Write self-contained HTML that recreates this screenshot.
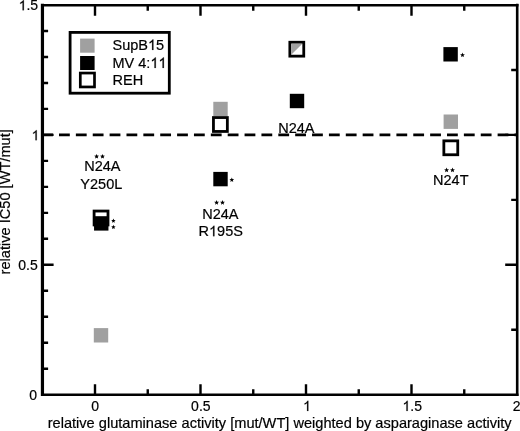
<!DOCTYPE html>
<html><head><meta charset="utf-8"><style>
html,body{margin:0;padding:0;background:#fff;}
body{width:520px;height:431px;overflow:hidden;position:relative;}
svg{position:absolute;left:0;top:0;filter:blur(0.35px);}
text{font-family:"Liberation Sans",sans-serif;font-size:14.5px;fill:#000;font-kerning:none;stroke:#000;stroke-width:0.2px;}
</style></head><body>
<svg width="520" height="431" viewBox="0 0 520 431">
<path d="M42.45 3.8V396.1" stroke="#000" stroke-width="3.2"/>
<path d="M517.2 3.8V396.1" stroke="#000" stroke-width="2.6"/>
<path d="M41.1 5.2H518.5M41.1 394.7H518.5" stroke="#000" stroke-width="2.6"/>
<path d="M147.75 394.7V389.20M147.75 5.2V10.70M200.50 394.7V384.20M200.50 5.2V15.70M253.25 394.7V389.20M253.25 5.2V10.70M306.00 394.7V384.20M306.00 5.2V15.70M358.75 394.7V389.20M358.75 5.2V10.70M411.50 394.7V384.20M411.50 5.2V15.70M464.25 394.7V389.20M464.25 5.2V10.70M95.00 394.7V384.20M95.00 5.2V15.70M42.6 368.72H48.10M42.6 342.74H48.10M42.6 316.76H48.10M42.6 290.78H48.10M42.6 264.80H53.60M42.6 238.82H48.10M42.6 212.84H48.10M42.6 186.86H48.10M42.6 160.88H48.10M42.6 134.90H53.60M42.6 108.92H48.10M42.6 82.94H48.10M42.6 56.96H48.10M42.6 30.98H48.10M517.2 329.75H511.20M517.2 264.80H505.20M517.2 199.85H511.20M517.2 134.90H505.20M517.2 69.95H511.20" stroke="#000" stroke-width="2.4" fill="none"/>
<path d="M42.13 134.90H517.2" stroke="#000" stroke-width="2.6" stroke-dasharray="10.8 6.07" fill="none"/>
<rect x="93.80" y="328.10" width="14.4" height="14.4" fill="#a0a0a0"/>
<rect x="94.10" y="211.05" width="13.9" height="13.9" fill="none" stroke="#000" stroke-width="2.8"/>
<rect x="94.05" y="216.20" width="14.4" height="14.4" fill="#000"/>
<rect x="213.30" y="101.80" width="14.4" height="14.4" fill="#a0a0a0"/>
<rect x="213.45" y="117.55" width="13.9" height="13.9" fill="#fff" stroke="#000" stroke-width="2.8"/>
<rect x="213.30" y="171.90" width="14.4" height="14.4" fill="#000"/>
<rect x="289.85" y="42.25" width="13.9" height="13.9" fill="#fff" stroke="#000" stroke-width="2.8"/>
<path d="M291.25 43.65H302.35L291.25 54.75Z" fill="#a0a0a0"/>
<rect x="289.80" y="93.80" width="14.4" height="14.4" fill="#000"/>
<rect x="443.40" y="47.10" width="14.4" height="14.4" fill="#000"/>
<rect x="443.60" y="114.50" width="14.4" height="14.4" fill="#a0a0a0"/>
<rect x="443.85" y="140.85" width="13.9" height="13.9" fill="#fff" stroke="#000" stroke-width="2.8"/>
<rect x="70.1" y="32.4" width="99.2" height="60.8" fill="none" stroke="#000" stroke-width="2.8"/>
<rect x="80.1" y="38.6" width="14.5" height="14.1" fill="#a0a0a0"/>
<rect x="80.1" y="56" width="14.5" height="14" fill="#000"/>
<rect x="80.3" y="73.05" width="14.2" height="13.9" fill="#fff" stroke="#000" stroke-width="2.7"/>
<text class="tt" x="38.1" y="10.3" text-anchor="end" style="font-size:14px"><tspan style="fill:none;stroke:none">1</tspan>.5</text>
<text class="tt" x="39.3" y="140.2" text-anchor="end" style="font-size:14px"><tspan style="fill:none;stroke:none">1</tspan></text>
<text class="tt" x="37.8" y="269.6" text-anchor="end" style="font-size:14px">0.5</text>
<text class="tt" x="37.0" y="399.8" text-anchor="end" style="font-size:14px">0</text>
<text class="tt" x="95.1" y="410.9" text-anchor="middle" style="font-size:14px">0</text>
<text class="tt" x="200.85" y="410.9" text-anchor="middle" style="font-size:14px">0.5</text>
<text class="tt" x="307.0" y="410.9" text-anchor="middle" style="font-size:14px"><tspan style="fill:none;stroke:none">1</tspan></text>
<text class="tt" x="412.2" y="410.9" text-anchor="middle" style="font-size:14px"><tspan style="fill:none;stroke:none">1</tspan>.5</text>
<text class="tt" x="516.7" y="410.9" text-anchor="middle" style="font-size:14px">2</text>
<text class="tt" x="47.7" y="428.1" text-anchor="start" style="font-size:14.6px">relative glutaminase activity [mut/WT] weighted by asparaginase activity</text>
<text class="tt" x="112.5" y="49.9" text-anchor="start">SupB<tspan style="fill:none;stroke:none">1</tspan>5</text>
<text class="tt" x="112.5" y="67.9" text-anchor="start">MV 4:<tspan style="fill:none;stroke:none">1</tspan><tspan style="fill:none;stroke:none">1</tspan></text>
<text class="tt" x="112.5" y="85.4" text-anchor="start">REH</text>
<text class="tt" x="102.3" y="171.1" text-anchor="middle">N24A</text>
<text class="tt" x="101.3" y="189.4" text-anchor="middle">Y250L</text>
<text class="tt" x="220.3" y="218.7" text-anchor="middle">N24A</text>
<text class="tt" x="220.7" y="236.2" text-anchor="middle">R<tspan style="fill:none;stroke:none">1</tspan>95S</text>
<text class="tt" x="296.3" y="133.3" text-anchor="middle">N24A</text>
<text class="tt" x="450.8" y="185.2" text-anchor="middle">N24T</text>
<text transform="translate(9.9 274.4) rotate(-90)" style="font-size:14.6px">relative IC50 [WT/mut]</text>
<polygon points="96.60,153.90 97.28,155.57 99.07,155.70 97.69,156.86 98.13,158.60 96.60,157.65 95.07,158.60 95.51,156.86 94.13,155.70 95.92,155.57"/>
<polygon points="102.50,153.90 103.18,155.57 104.97,155.70 103.59,156.86 104.03,158.60 102.50,157.65 100.97,158.60 101.41,156.86 100.03,155.70 101.82,155.57"/>
<polygon points="216.60,200.00 217.28,201.67 219.07,201.80 217.69,202.96 218.13,204.70 216.60,203.75 215.07,204.70 215.51,202.96 214.13,201.80 215.92,201.67"/>
<polygon points="222.50,200.00 223.18,201.67 224.97,201.80 223.59,202.96 224.03,204.70 222.50,203.75 220.97,204.70 221.41,202.96 220.03,201.80 221.82,201.67"/>
<polygon points="446.60,167.60 447.28,169.27 449.07,169.40 447.69,170.56 448.13,172.30 446.60,171.35 445.07,172.30 445.51,170.56 444.13,169.40 445.92,169.27"/>
<polygon points="452.50,167.60 453.18,169.27 454.97,169.40 453.59,170.56 454.03,172.30 452.50,171.35 450.97,172.30 451.41,170.56 450.03,169.40 451.82,169.27"/>
<polygon points="113.40,218.56 114.01,220.06 115.63,220.18 114.38,221.22 114.78,222.79 113.40,221.94 112.02,222.79 112.42,221.22 111.17,220.18 112.79,220.06"/>
<polygon points="113.40,224.86 114.01,226.36 115.63,226.48 114.38,227.52 114.78,229.09 113.40,228.23 112.02,229.09 112.42,227.52 111.17,226.48 112.79,226.36"/>
<polygon points="231.80,177.43 232.44,179.02 234.15,179.14 232.84,180.24 233.25,181.90 231.80,180.99 230.35,181.90 230.76,180.24 229.45,179.14 231.16,179.02"/>
<polygon points="462.50,52.58 463.14,54.17 464.85,54.29 463.54,55.39 463.95,57.05 462.50,56.14 461.05,57.05 461.46,55.39 460.15,54.29 461.86,54.17"/>
<path transform="translate(18.62 10.30) scale(0.006836 -0.006836)" d="M763 0H583V1147Q518 1085 412.5 1023T223 930V1104Q374 1175 487 1276T647 1472H763Z" stroke="#000" stroke-width="0.2" vector-effect="non-scaling-stroke"/>
<path transform="translate(31.50 140.20) scale(0.006836 -0.006836)" d="M763 0H583V1147Q518 1085 412.5 1023T223 930V1104Q374 1175 487 1276T647 1472H763Z" stroke="#000" stroke-width="0.2" vector-effect="non-scaling-stroke"/>
<path transform="translate(303.10 410.90) scale(0.006836 -0.006836)" d="M763 0H583V1147Q518 1085 412.5 1023T223 930V1104Q374 1175 487 1276T647 1472H763Z" stroke="#000" stroke-width="0.2" vector-effect="non-scaling-stroke"/>
<path transform="translate(402.46 410.90) scale(0.006836 -0.006836)" d="M763 0H583V1147Q518 1085 412.5 1023T223 930V1104Q374 1175 487 1276T647 1472H763Z" stroke="#000" stroke-width="0.2" vector-effect="non-scaling-stroke"/>
<path transform="translate(147.98 49.90) scale(0.007080 -0.007080)" d="M763 0H583V1147Q518 1085 412.5 1023T223 930V1104Q374 1175 487 1276T647 1472H763Z" stroke="#000" stroke-width="0.2" vector-effect="non-scaling-stroke"/>
<path transform="translate(150.38 67.90) scale(0.007080 -0.007080)" d="M763 0H583V1147Q518 1085 412.5 1023T223 930V1104Q374 1175 487 1276T647 1472H763Z" stroke="#000" stroke-width="0.2" vector-effect="non-scaling-stroke"/>
<path transform="translate(158.45 67.90) scale(0.007080 -0.007080)" d="M763 0H583V1147Q518 1085 412.5 1023T223 930V1104Q374 1175 487 1276T647 1472H763Z" stroke="#000" stroke-width="0.2" vector-effect="non-scaling-stroke"/>
<path transform="translate(209.00 236.20) scale(0.007080 -0.007080)" d="M763 0H583V1147Q518 1085 412.5 1023T223 930V1104Q374 1175 487 1276T647 1472H763Z" stroke="#000" stroke-width="0.2" vector-effect="non-scaling-stroke"/>
</svg>
</body></html>
